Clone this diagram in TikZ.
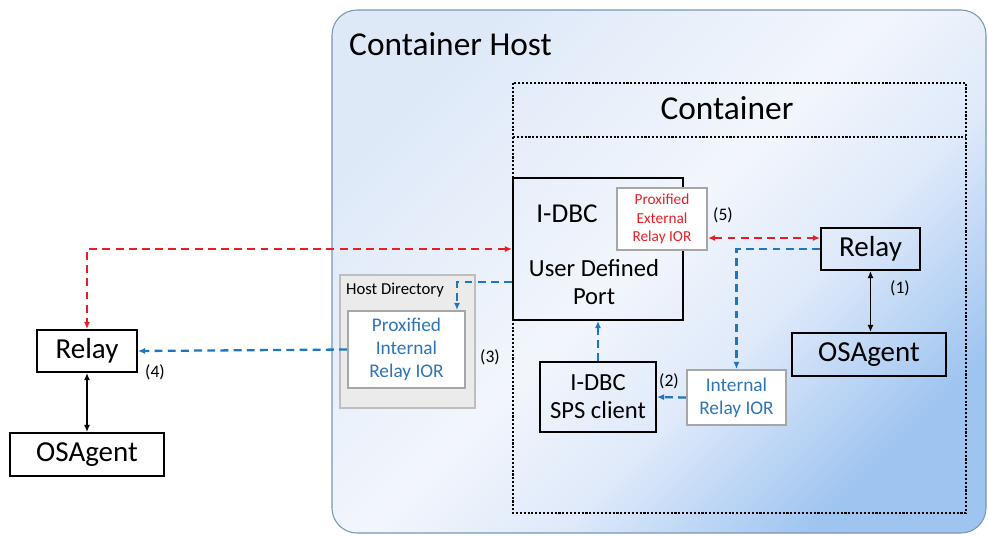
\documentclass[tikz,border=0pt]{standalone}
\usepackage{fontspec}
\setmainfont{Carlito}
\usetikzlibrary{arrows.meta}

\definecolor{linkred}{RGB}{232,30,37}
\definecolor{linkblue}{RGB}{31,117,191}
\definecolor{iorblue}{RGB}{46,117,182}
\definecolor{iorgray}{RGB}{166,166,166}
\definecolor{dirfill}{RGB}{235,235,235}
\definecolor{dirgray}{RGB}{190,190,190}
\definecolor{hostedge}{RGB}{120,150,182}
\definecolor{hosttop}{RGB}{222,233,248}
\definecolor{hostmid}{RGB}{242,246,252}
\definecolor{hostlow}{RGB}{222,233,250}
\definecolor{hostbot}{RGB}{158,196,240}

\pgfdeclarehorizontalshading{hostshade}{100bp}{color(0bp)=(hosttop); color(25bp)=(hosttop); color(48bp)=(hostmid); color(60bp)=(hostlow); color(75bp)=(hostbot); color(100bp)=(hostbot)}

\tikzset{
  blackbox/.style={draw, line width=1.2pt},
  iorbox/.style={draw=iorgray, line width=1.2pt, fill=white, align=center},
  redlink/.style={linkred, line width=1.3pt, dash pattern=on 4.5pt off 3pt},
  bluelink/.style={linkblue, line width=1.3pt, dash pattern=on 4.5pt off 3pt},
  numlbl/.style={font=\fontsize{10}{12}\selectfont}
}

\begin{document}
\begin{tikzpicture}[x=0.02cm, y=-0.02cm, >={Latex[length=4pt,width=3.5pt]}]

	\useasboundingbox (0,0) rectangle (988,535);
	\clip (0,0) rectangle (988,535);

	% Container host
	\shade[rounded corners=0.5cm, shading=hostshade, shading angle=-45] (332,10) rectangle (986,533);
	\draw[hostedge, line width=0.6pt, rounded corners=0.5cm] (332,10) rectangle (986,533);
	\node[anchor=west, font=\fontsize{19}{22}\selectfont] (hostlbl) at (343,44) {Container Host};

	% Container
	\draw[densely dotted, line width=1.2pt] (513,83) rectangle (966,513);
	\draw[densely dotted, line width=1.2pt] (513,137) -- (966,137);
	\node[font=\fontsize{19}{22}\selectfont] (contlbl) at (727,108) {Container};

	% Host directory
	\node[draw=dirgray, fill=dirfill, line width=0.8pt, minimum width=2.7cm, minimum height=2.66cm] (hostdir) at (407.5,341.5) {};
	\node[font=\fontsize{9.5}{11}\selectfont] (hostdirlbl) at (395,290) {Host Directory};
	\node[iorbox, text=iorblue, minimum width=2.34cm, minimum height=1.54cm, font=\fontsize{11}{13}\selectfont] (proxint) at (406.5,349.5) {Proxified\\Internal\\Relay IOR};
	\node[numlbl] (n3) at (490,357) {(3)};

	% I-DBC
	\node[blackbox, minimum width=3.4cm, minimum height=2.84cm] (idbc) at (598,249) {};
	\node[font=\fontsize{15.5}{18}\selectfont] (idbcname) at (567,214) {I-DBC};
	\node[align=center, font=\fontsize{14}{16}\selectfont] (idbcport) at (594,282) {User Defined\\Port};
	\node[iorbox, text=linkred, minimum width=1.8cm, minimum height=1.24cm, font=\fontsize{8.7}{10.3}\selectfont] (proxext) at (662,219) {Proxified\\External\\Relay IOR};
	\node[numlbl] (n5) at (723,215) {(5)};

	\node[blackbox, align=center, minimum width=2.32cm, minimum height=1.4cm, font=\fontsize{14}{16}\selectfont] (spsc) at (598,397) {I-DBC\\SPS client};
	\node[iorbox, text=iorblue, minimum width=1.98cm, minimum height=1.1cm, font=\fontsize{11}{13}\selectfont] (intior) at (736.5,397.5) {Internal\\Relay IOR};
	\node[numlbl] (n2) at (669,381) {(2)};

	% Relay and OSAgent inside
	\node[blackbox, minimum width=1.98cm, minimum height=0.84cm, font=\fontsize{16.5}{19}\selectfont] (relayin) at (870.5,249) {Relay};
	\node[blackbox, minimum width=3.08cm, minimum height=0.86cm, font=\fontsize{16.5}{19}\selectfont] (osain) at (869,354.5) {OSAgent};
	\node[numlbl] (n1) at (900,288) {(1)};

	% Relay and OSAgent outside
	\node[blackbox, minimum width=2.0cm, minimum height=0.84cm, font=\fontsize{16.5}{19}\selectfont] (relayout) at (87,351) {Relay};
	\node[blackbox, minimum width=3.08cm, minimum height=0.86cm, font=\fontsize{16.5}{19}\selectfont] (osaout) at (87,454.5) {OSAgent};
	\node[numlbl] (n4) at (155,372) {(4)};

	% Links
	\draw[line width=1pt, <->] (relayin.south) -- (relayin.south |- osain.north);
	\draw[line width=1pt, <->] (relayout.south) -- (osaout.north);

	\draw[redlink, <->] (idbc.west) -| (relayout.north);
	\draw[redlink, <->] ([yshift=-0.38cm]proxext.east) -- ([yshift=-0.38cm]proxext.east -| relayin.west);

	\draw[bluelink, ->] (relayin.west) -| (intior.north);
	\draw[bluelink, ->] (intior.west) -- (spsc.east);
	\draw[bluelink, ->] (spsc.north) -- (idbc.south);
	\draw[bluelink, ->] ([yshift=-0.66cm]idbc.west) -| ([xshift=1.01cm]proxint.north);
	\draw[bluelink, ->] (proxint.west) -- (relayout.east);

\end{tikzpicture}
\end{document}
